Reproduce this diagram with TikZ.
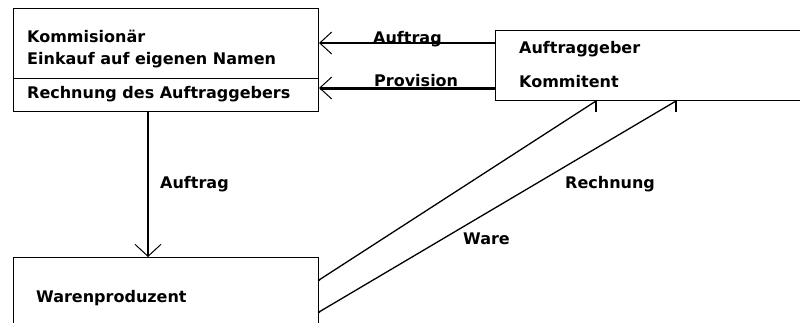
\documentclass[tikz,border=0pt]{standalone}
\usepackage{fontspec}
\setmainfont{DejaVu Sans}
\usetikzlibrary{arrows.meta}
\begin{document}
\begin{tikzpicture}[x=1pt,y=-1pt,
  box/.style={draw, line width=1pt, rectangle, inner sep=0pt, anchor=north west},
  lbl/.style={anchor=base west, inner sep=0pt, font=\fontsize{16}{19}\selectfont\bfseries},
  barbh/.style={-{Straight Barb[length=12pt,width=22pt,line width=1pt]}},
  barbv/.style={-{Straight Barb[length=12pt,width=26pt,line width=1pt]}},
  diag/.style={line width=1.3pt}
]
\useasboundingbox (0,0) rectangle (800,322);
\clip (0,0) rectangle (800,322);
\fill[white] (0,0) rectangle (800,322);

% boxes
\node[box, minimum width=305pt, minimum height=103pt] (kom) at (13,8) {};
\node[box, minimum width=340pt, minimum height=70pt] (ag) at (495,30) {};
\node[box, minimum width=305pt, minimum height=100pt] (wp) at (13,257) {};

% helper coordinates
\coordinate (dv) at (0,78);
\coordinate (y1) at (0,43);
\coordinate (y2) at (0,88);
\coordinate (vx) at (148,0);
\coordinate (l1) at (0,280);
\coordinate (l2) at (0,312);
\coordinate (c1) at (596,0);
\coordinate (c2) at (676,0);

\draw[line width=1pt] (kom.west |- dv) -- (kom.east |- dv);

% texts in boxes
\node[lbl] (t1) at (27,42) {Kommisionär};
\node[lbl] (t2) at (27,64) {Einkauf auf eigenen Namen};
\node[lbl] (t3) at (27,98) {Rechnung des Auftraggebers};
\node[lbl] (t4) at (519,53) {Auftraggeber};
\node[lbl] (t5) at (519,87) {Kommitent};
\node[lbl] (t6) at (36,302) {Warenproduzent};

% connectors
\draw[barbh, line width=2pt] (ag.west |- y1) -- (kom.east |- y1);
\draw[barbh, line width=3pt] (ag.west |- y2) -- (kom.east |- y2);
\draw[barbv, line width=2pt] (kom.south -| vx) -- (wp.north -| vx);

\draw[diag] (wp.east |- l1) -- (ag.south -| c1);
\draw[diag] (wp.east |- l2) -- (ag.south -| c2);
\draw[line width=1.3pt] (ag.south -| c1) -- ++(0,11);
\draw[line width=1.3pt] (ag.south -| c2) -- ++(0,11);
\fill (wp.east |- l1) circle (1.4pt);
\fill (wp.east |- l2) circle (1.4pt);

% labels
\node[lbl] (la1) at (373,43) {Auftrag};
\node[lbl] (la2) at (374,86) {Provision};
\node[lbl] (la3) at (160,188) {Auftrag};
\node[lbl] (la4) at (565,188) {Rechnung};
\node[lbl] (la5) at (463,244) {Ware};
\end{tikzpicture}
\end{document}
